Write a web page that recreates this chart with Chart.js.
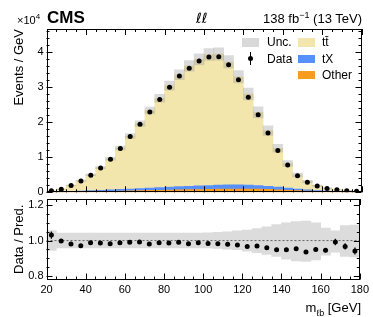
<!DOCTYPE html>
<html>
<head>
<meta charset="utf-8">
<script src="https://cdn.jsdelivr.net/npm/chart.js@4.4.0/dist/chart.umd.min.js"></script>
<style>
  html, body { margin: 0; padding: 0; background: #fff; }
  #wrap { position: relative; width: 373px; height: 317px; overflow: hidden;
          font-family: "Liberation Sans", Arial, sans-serif; color: #000; }
  canvas { position: absolute; left: 0; top: 0; }
  .t { position: absolute; white-space: nowrap; line-height: 1; }
  .box { position: absolute; }
  sup, sub { line-height: 0; }
</style>
</head>
<body>
<div id="wrap">
  <canvas id="main" width="373" height="317" style="width:373px;height:317px"></canvas>
  <canvas id="ratio" width="373" height="317" style="width:373px;height:317px"></canvas>

  <div class="t" style="left:17px;top:15px;font-size:11px">&times;10<sup style="font-size:8px">4</sup></div>
  <div class="t" style="left:47px;top:9px;font-size:17px;font-weight:bold">CMS</div>
  <div class="t" style="left:196px;top:11px;font-size:14px;font-family:'DejaVu Sans',sans-serif">ℓℓ</div>
  <div class="t" style="right:11px;top:12px;font-size:13px">138 fb<sup style="font-size:9px">&minus;1</sup> (13 TeV)</div>

  <!-- legend -->
  <div class="box" style="left:242px;top:38px;width:17px;height:9px;background:#d9d9d9"></div>
  <div class="t" style="left:267px;top:36px;font-size:12px">Unc.</div>
  <div class="box" style="left:298px;top:38px;width:17px;height:9px;background:#f3e6ad"></div>
  <div class="t" style="left:322px;top:36px;font-size:12px">tt̄</div>
  <div class="box" style="left:250px;top:52px;width:1.2px;height:13px;background:#000"></div>
  <div class="box" style="left:248px;top:56px;width:5.2px;height:5.2px;border-radius:50%;background:#000"></div>
  <div class="t" style="left:267px;top:53px;font-size:12px">Data</div>
  <div class="box" style="left:298px;top:55px;width:17px;height:8px;background:#5790fc"></div>
  <div class="t" style="left:322px;top:53px;font-size:12px">tX</div>
  <div class="box" style="left:298px;top:71px;width:17px;height:8px;background:#f89c20"></div>
  <div class="t" style="left:322px;top:69px;font-size:12px">Other</div>

  <div class="t" style="right:12px;top:301px;font-size:13px">m<sub style="font-size:9px">ℓb</sub> [GeV]</div>
</div>

<script>
// bins of m_lb, 5 GeV wide
const binCenters = [22.5, 27.5, 32.5, 37.5, 42.5, 47.5, 52.5, 57.5, 62.5, 67.5, 72.5, 77.5,
  82.5, 87.5, 92.5, 97.5, 102.5, 107.5, 112.5, 117.5, 122.5, 127.5, 132.5, 137.5,
  142.5, 147.5, 152.5, 157.5, 162.5, 167.5, 172.5, 177.5];

// Events / GeV
const dataValues = [430, 900, 1950, 3250, 4900, 6950, 9400, 12500, 15900, 19450, 22900, 26500,
  30000, 33200, 35400, 37500, 38600, 38700, 36400, 32100, 27100, 22100, 16900, 11900,
  7800, 4700, 2900, 1800, 1100, 750, 450, 300];

const ttbar = [307, 703, 1710, 2977, 4490, 6469, 8862, 11822, 15111, 18537, 22157, 25482,
  28956, 31935, 34319, 36105, 37318, 37359, 35071, 30793, 25955, 20877, 15884, 11073,
  7028, 3997, 2412, 1405, 814, 516, 305, 209];

const singleTop = [80, 150, 200, 250, 300, 350, 420, 480, 540, 600, 680, 750,
  820, 900, 980, 1050, 1100, 1150, 1180, 1180, 1120, 1030, 900, 780,
  620, 470, 340, 230, 160, 110, 70, 50];

const other = [30, 50, 80, 120, 170, 230, 290, 350, 410, 470, 530, 590,
  650, 700, 750, 800, 850, 900, 930, 950, 950, 900, 820, 700,
  580, 460, 350, 260, 190, 130, 90, 60];

// Data / Pred.
const ratioValues = [1.031, 0.997, 0.980, 0.971, 0.988, 0.986, 0.982, 0.988, 0.990, 0.992, 0.980, 0.988,
  0.986, 0.990, 0.982, 0.988, 0.983, 0.982, 0.979, 0.975, 0.967, 0.969, 0.960, 0.948,
  0.948, 0.954, 0.935, 0.950, 0.945, 0.992, 0.967, 0.941];

const ratioErrors = [0.02, 0.01, 0.006, 0.005, 0.004, 0.003, 0.003, 0.003, 0.003, 0.003, 0.003, 0.003,
  0.003, 0.003, 0.003, 0.003, 0.003, 0.003, 0.003, 0.003, 0.003, 0.003, 0.004, 0.004,
  0.005, 0.006, 0.008, 0.01, 0.012, 0.018, 0.018, 0.02];

// relative systematic band
const uncUp = [1.056, 1.043, 1.042, 1.042, 1.042, 1.042, 1.042, 1.042, 1.042, 1.042, 1.042, 1.042,
  1.042, 1.042, 1.042, 1.042, 1.044, 1.046, 1.050, 1.055, 1.060, 1.068, 1.078, 1.090,
  1.100, 1.108, 1.110, 1.100, 1.070, 1.055, 1.085, 1.088];
const uncDown = [0.944, 0.958, 0.958, 0.958, 0.958, 0.958, 0.958, 0.958, 0.958, 0.958, 0.958, 0.958,
  0.958, 0.958, 0.958, 0.958, 0.958, 0.956, 0.952, 0.948, 0.940, 0.932, 0.922, 0.910,
  0.895, 0.885, 0.882, 0.890, 0.918, 0.935, 0.910, 0.908];

const xTicks = [20, 40, 60, 80, 100, 120, 140, 160, 180];
const mainYTicks = [0, 10000, 20000, 30000, 40000];
const ratioYTicks = [0.8, 1.0, 1.2];

const FONT = "'Liberation Sans', Arial, sans-serif";

// CMS-style frame with inward ticks on all four sides
const frameTicks = {
  id: "frameTicks",
  afterDatasetsDraw(chart, _args, opts) {
    const { ctx, chartArea: a, scales: { x, y } } = chart;
    ctx.save();
    ctx.strokeStyle = "#000";
    ctx.lineWidth = 1;
    const seg = (x0, y0, x1, y1) => {
      ctx.beginPath();
      ctx.moveTo(x0, y0);
      ctx.lineTo(x1, y1);
      ctx.stroke();
    };
    const isMajor = (v, step) => Math.abs(v / step - Math.round(v / step)) < 1e-6;
    let n = Math.ceil(x.min / opts.xMinor - 1e-9);
    for (let v = n * opts.xMinor; v <= x.max + 1e-9; v = ++n * opts.xMinor) {
      const len = isMajor(v, opts.xMajor) ? 6 : 3;
      const px = Math.round(x.getPixelForValue(v)) + 0.5;
      seg(px, a.bottom, px, a.bottom - len);
      seg(px, a.top, px, a.top + len);
    }
    n = Math.ceil(y.min / opts.yMinor - 1e-9);
    for (let v = n * opts.yMinor; v <= y.max + 1e-9; v = ++n * opts.yMinor) {
      const len = isMajor(v, opts.yMajor) ? 6 : 3;
      const py = Math.round(y.getPixelForValue(v)) + 0.5;
      seg(a.left, py, a.left + len, py);
      seg(a.right, py, a.right - len, py);
    }
    ctx.strokeRect(Math.round(a.left) + 0.5, Math.round(a.top) + 0.5,
      Math.round(a.width) - 1, Math.round(a.height) - 1);
    ctx.restore();
  },
};

const errorBars = {
  id: "errorBars",
  afterDatasetsDraw(chart) {
    const { ctx, scales: { y } } = chart;
    chart.data.datasets.forEach((ds, i) => {
      if (!ds.errors) return;
      const meta = chart.getDatasetMeta(i);
      ctx.save();
      ctx.strokeStyle = "#000";
      ctx.lineWidth = 1.2;
      meta.data.forEach((pt, j) => {
        const v = ds.data[j].y;
        const e = ds.errors[j];
        ctx.beginPath();
        ctx.moveTo(pt.x, y.getPixelForValue(v - e));
        ctx.lineTo(pt.x, y.getPixelForValue(v + e));
        ctx.stroke();
      });
      ctx.restore();
    });
  },
};

const mcTotal = ttbar.map((v, i) => v + singleTop[i] + other[i]);
const toPoints = (vals) => binCenters.map((x, i) => ({ x, y: vals[i] }));

function yAxis(extra) {
  return Object.assign({
    grid: { display: false, drawTicks: false },
    border: { display: false },
    afterFit(s) { s.width = 46.5; },
  }, extra);
}

const histBar = {
  type: "bar",
  grouped: false,
  barPercentage: 1,
  categoryPercentage: 1,
  borderWidth: 0,
};

// stacking follows "order": Other at the bottom, then tX, then ttbar
new Chart(document.getElementById("main"), {
  type: "bar",
  data: {
    datasets: [
      {
        type: "scatter",
        label: "Data",
        data: toPoints(dataValues),
        stack: "data",
        order: 0,
        pointRadius: 2.5,
        backgroundColor: "#000",
        borderWidth: 0,
      },
      Object.assign({
        label: "Unc.",
        data: binCenters.map((x, i) => ({ x, y: [mcTotal[i] * uncDown[i], mcTotal[i] * uncUp[i]] })),
        stack: "unc",
        order: 1,
        backgroundColor: "rgba(150,150,150,0.35)",
      }, histBar),
      Object.assign({ label: "Other", data: toPoints(other), stack: "mc", order: 2, backgroundColor: "#f89c20" }, histBar),
      Object.assign({ label: "tX", data: toPoints(singleTop), stack: "mc", order: 3, backgroundColor: "#5790fc" }, histBar),
      Object.assign({ label: "tt", data: toPoints(ttbar), stack: "mc", order: 4, backgroundColor: "#f3e6ad" }, histBar),
    ],
  },
  options: {
    responsive: false,
    animation: false,
    events: [],
    layout: { padding: { left: 0, right: 11.5, top: 29, bottom: 124.7 } },
    plugins: {
      legend: { display: false },
      tooltip: { enabled: false },
      frameTicks: { xMinor: 5, xMajor: 20, yMinor: 2000, yMajor: 10000 },
    },
    scales: {
      x: { type: "linear", min: 20, max: 180, offset: false, display: false, ticks: { stepSize: 20 } },
      y: yAxis({
        stacked: true,
        min: 0,
        max: 46600,
        afterBuildTicks(s) { s.ticks = mainYTicks.map((v) => ({ value: v })); },
        ticks: { color: "#000", padding: 3, font: { family: FONT, size: 11 }, callback: (v) => String(v / 10000) },
        title: { display: true, text: "Events / GeV", align: "end", color: "#000",
          font: { family: FONT, size: 13 }, padding: { top: 12, bottom: 0 } },
      }),
    },
  },
  plugins: [frameTicks],
});

new Chart(document.getElementById("ratio"), {
  type: "bar",
  data: {
    datasets: [
      {
        type: "scatter",
        label: "Data / Pred.",
        data: toPoints(ratioValues),
        errors: ratioErrors,
        order: 0,
        pointRadius: 2.5,
        backgroundColor: "#000",
        borderWidth: 0,
      },
      {
        type: "line",
        data: [{ x: 20, y: 1 }, { x: 180, y: 1 }],
        order: 1,
        borderColor: "#444",
        borderWidth: 0.8,
        borderDash: [2, 2],
        pointRadius: 0,
      },
      Object.assign({
        label: "Unc.",
        data: binCenters.map((x, i) => ({ x, y: [uncDown[i], uncUp[i]] })),
        order: 2,
        backgroundColor: "#dcdcdc",
      }, histBar),
    ],
  },
  options: {
    responsive: false,
    animation: false,
    events: [],
    layout: { padding: { left: 0, right: 11.5, top: 199, bottom: 0 } },
    plugins: {
      legend: { display: false },
      tooltip: { enabled: false },
      frameTicks: { xMinor: 5, xMajor: 20, yMinor: 0.05, yMajor: 0.2 },
    },
    scales: {
      x: {
        type: "linear",
        min: 20,
        max: 180,
        offset: false,
        grid: { display: false, drawTicks: false },
        border: { display: false },
        afterBuildTicks(s) { s.ticks = xTicks.map((v) => ({ value: v })); },
        afterFit(s) { s.height = 37.5; },
        ticks: { color: "#000", padding: 4, maxRotation: 0, font: { family: FONT, size: 11 } },
      },
      y: yAxis({
        min: 0.78,
        max: 1.235,
        afterBuildTicks(s) { s.ticks = ratioYTicks.map((v) => ({ value: v })); },
        ticks: { color: "#000", padding: 3, font: { family: FONT, size: 11 }, callback: (v) => v.toFixed(1) },
        title: { display: true, text: "Data / Pred.", align: "center", color: "#000",
          font: { family: FONT, size: 13 }, padding: { top: 12, bottom: 0 } },
      }),
    },
  },
  plugins: [frameTicks, errorBars],
});
</script>
</body>
</html>
